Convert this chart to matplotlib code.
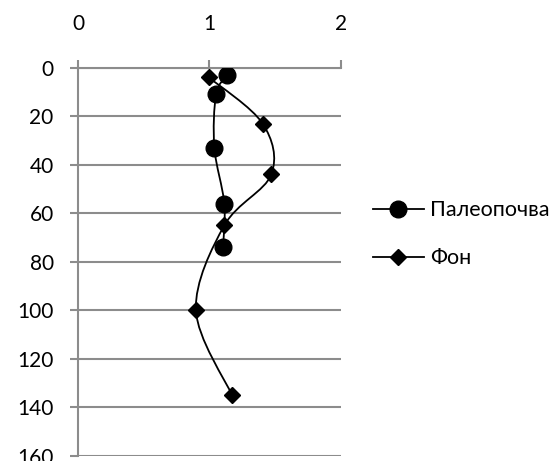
import matplotlib.pyplot as plt
from matplotlib.path import Path
from matplotlib.patches import PathPatch
from matplotlib.lines import Line2D
import numpy as np

plt.rcParams['font.family'] = ['Lato', 'DejaVu Sans']

# values
paleo_x = [1.135, 1.05, 1.037, 1.113, 1.103]
paleo_depth = [3, 11, 33, 56, 74]
fon_x = [0.996, 1.404, 1.47, 1.113, 0.897, 1.171]
fon_depth = [4, 23, 44, 65, 100, 135]

x_ticks = [0, 1, 2]
y_ticks = [0, 20, 40, 60, 80, 100, 120, 140, 160]

GRID = '#8c8c8c'


def smooth_path(xs, ys):
    # Catmull-Rom style bezier, like Excel's smoothed line
    p = np.column_stack([xs, ys]).astype(float)
    verts = [p[0]]
    codes = [Path.MOVETO]
    n = len(p)
    for i in range(n - 1):
        p0 = p[i - 1] if i > 0 else p[i]
        p1 = p[i]
        p2 = p[i + 1]
        p3 = p[i + 2] if i + 2 < n else p[i + 1]
        c1 = p1 + (p2 - p0) / 6.0
        c2 = p2 - (p3 - p1) / 6.0
        verts += [c1, c2, p2]
        codes += [Path.CURVE4] * 3
    return Path(verts, codes)


fig = plt.figure(figsize=(5.55, 4.61), dpi=100)
ax = fig.add_axes([0.1405, 0.0115, 0.4739, 0.8415])

for xs, ys in [(paleo_x, paleo_depth), (fon_x, fon_depth)]:
    ax.add_patch(PathPatch(smooth_path(xs, ys), facecolor='none',
                           edgecolor='black', lw=1.3, zorder=3))

ax.plot(paleo_x, paleo_depth, ls='none', marker='o', ms=12, color='black', zorder=4)
ax.plot(fon_x, fon_depth, ls='none', marker='D', ms=8.5, color='black', zorder=4)

ax.set_xlim(0, 2)
ax.set_ylim(160, 0)
ax.set_xticks(x_ticks)
ax.set_yticks(y_ticks)
ax.xaxis.tick_top()
ax.tick_params(axis='both', colors=GRID, labelcolor='black', labelsize=15,
               length=5.5, width=1.5, direction='out')
ax.tick_params(axis='x', pad=19)
ax.tick_params(axis='y', pad=12)

for s in ['right', 'bottom']:
    ax.spines[s].set_visible(False)
for s in ['left', 'top']:
    ax.spines[s].set_color(GRID)
    ax.spines[s].set_linewidth(1.5)

ax.yaxis.grid(True, color=GRID, lw=1.5)
ax.set_axisbelow(True)

handles = [
    Line2D([], [], color='black', lw=1.3, marker='o', ms=12),
    Line2D([], [], color='black', lw=1.3, marker='D', ms=8.5),
]
fig.legend(handles, ['Палеопочва', 'Фон'], loc='center left',
           bbox_to_anchor=(0.672, 0.492), frameon=False, fontsize=15.5,
           borderpad=0, borderaxespad=0,
           handlelength=2.35, handletextpad=0.3, labelspacing=1.3)

fig.savefig('out.png', dpi=100)
